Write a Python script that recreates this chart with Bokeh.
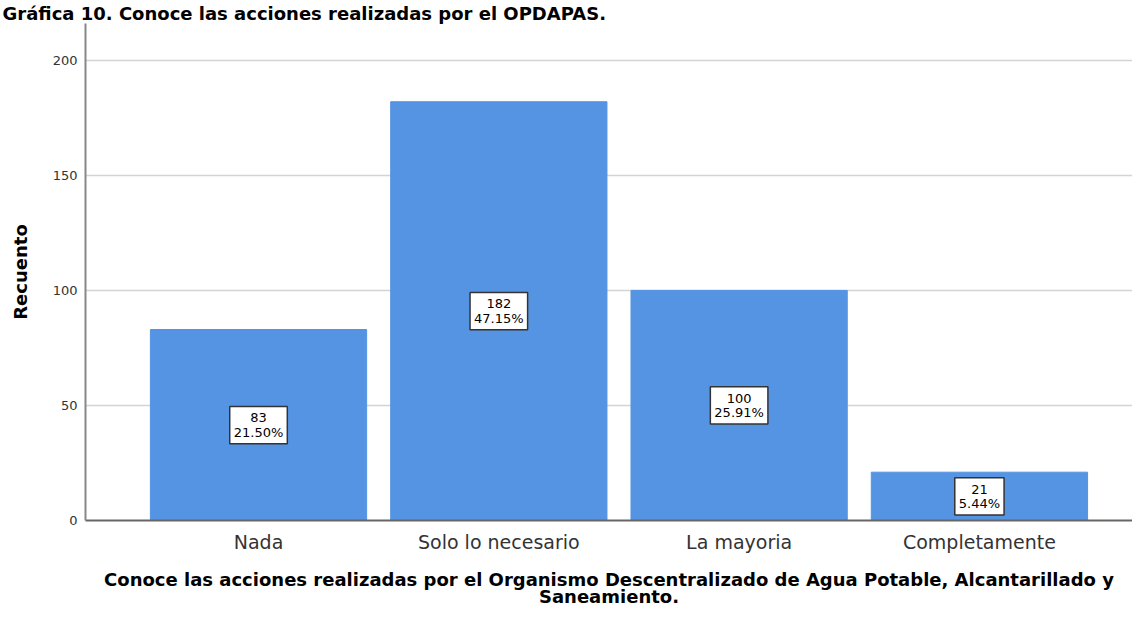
from bokeh.plotting import figure
from bokeh.models import Range1d, FixedTicker, Label
from bokeh.embed import file_html
from bokeh.resources import INLINE

# ---- data ----
categories = ["Nada", "Solo lo necesario", "La mayoria", "Completamente"]
counts = [83, 182, 100, 21]
percents = [21.50, 47.15, 25.91, 5.44]
y_ticks = [0, 50, 100, 150, 200]

title_text = "Gráfica 10. Conoce las acciones realizadas por el OPDAPAS."
x_title = ("Conoce las acciones realizadas por el Organismo Descentralizado de Agua Potable, Alcantarillado y\n"
           "Saneamiento.")
y_title = "Recuento"

FONT = "DejaVu Sans"
BAR = "#5594E3"

xs = list(range(len(categories)))

p = figure(width=1132, height=610, output_backend="svg", toolbar_location=None,
           x_range=Range1d(-0.72, 3.637), y_range=Range1d(0, 216),
           min_border_left=85, min_border_right=0, min_border_top=0, min_border_bottom=90)
p.outline_line_color = None
p.background_fill_color = "white"
p.border_fill_color = "white"

# title (top-left, above the plot area)
p.title.text = title_text
p.title.align = "left"
p.title.offset = -83
p.title.standoff = 0
p.title.text_font = FONT
p.title.text_font_style = "bold"
p.title.text_font_size = "18px"
p.title.text_color = "black"

p.vbar(x=xs, top=counts, width=0.9, fill_color=BAR, line_color=BAR, line_width=1)

# x axis
p.xaxis.ticker = FixedTicker(ticks=xs)
p.xaxis.major_label_overrides = {i: c for i, c in enumerate(categories)}
p.xaxis.major_label_text_font = FONT
p.xaxis.major_label_text_font_size = "19px"
p.xaxis.major_label_text_color = "#333333"
p.xaxis.major_label_standoff = 10
p.xaxis.major_tick_line_color = None
p.xaxis.major_tick_out = 0
p.xaxis.minor_tick_line_color = None
p.xaxis.minor_tick_out = 0
p.xaxis.axis_line_color = "#666666"
p.xaxis.axis_line_width = 2
p.xaxis.axis_label = x_title
p.xaxis.axis_label_text_font = FONT
p.xaxis.axis_label_text_font_style = "bold"
p.xaxis.axis_label_text_font_size = "18px"
p.xaxis.axis_label_text_color = "black"
p.xaxis.axis_label_text_line_height = 0.82
p.xaxis.axis_label_standoff = 13

# y axis
p.yaxis.ticker = FixedTicker(ticks=y_ticks)
p.yaxis.major_label_text_font = FONT
p.yaxis.major_label_text_font_size = "13px"
p.yaxis.major_label_text_color = "#333333"
p.yaxis.major_label_standoff = 8
p.yaxis.major_tick_line_color = None
p.yaxis.major_tick_out = 0
p.yaxis.minor_tick_line_color = None
p.yaxis.minor_tick_out = 0
p.yaxis.axis_line_color = "#888888"
p.yaxis.axis_line_width = 2
p.yaxis.axis_label = y_title
p.yaxis.axis_label_text_font = FONT
p.yaxis.axis_label_text_font_style = "bold"
p.yaxis.axis_label_text_font_size = "18px"
p.yaxis.axis_label_text_color = "black"
p.yaxis.axis_label_standoff = 19

p.xgrid.grid_line_color = None
p.ygrid.grid_line_color = "#d4d4d4"
p.ygrid.grid_line_width = 1.5
p.ygrid.ticker = FixedTicker(ticks=[50, 100, 150, 200])

# data labels in the middle of each bar
for x, c, pc in zip(xs, counts, percents):
    p.add_layout(Label(x=x, y=c / 2, text=f"{c}\n{pc:.2f}%",
                       text_align="center", text_baseline="middle",
                       text_font=FONT, text_font_size="13px", text_color="black",
                       text_line_height=0.95,
                       background_fill_color="white", background_fill_alpha=1.0,
                       border_line_color="#333333", border_line_width=1.5,
                       padding=4))

open("out.html", "w").write(file_html(p, INLINE))
